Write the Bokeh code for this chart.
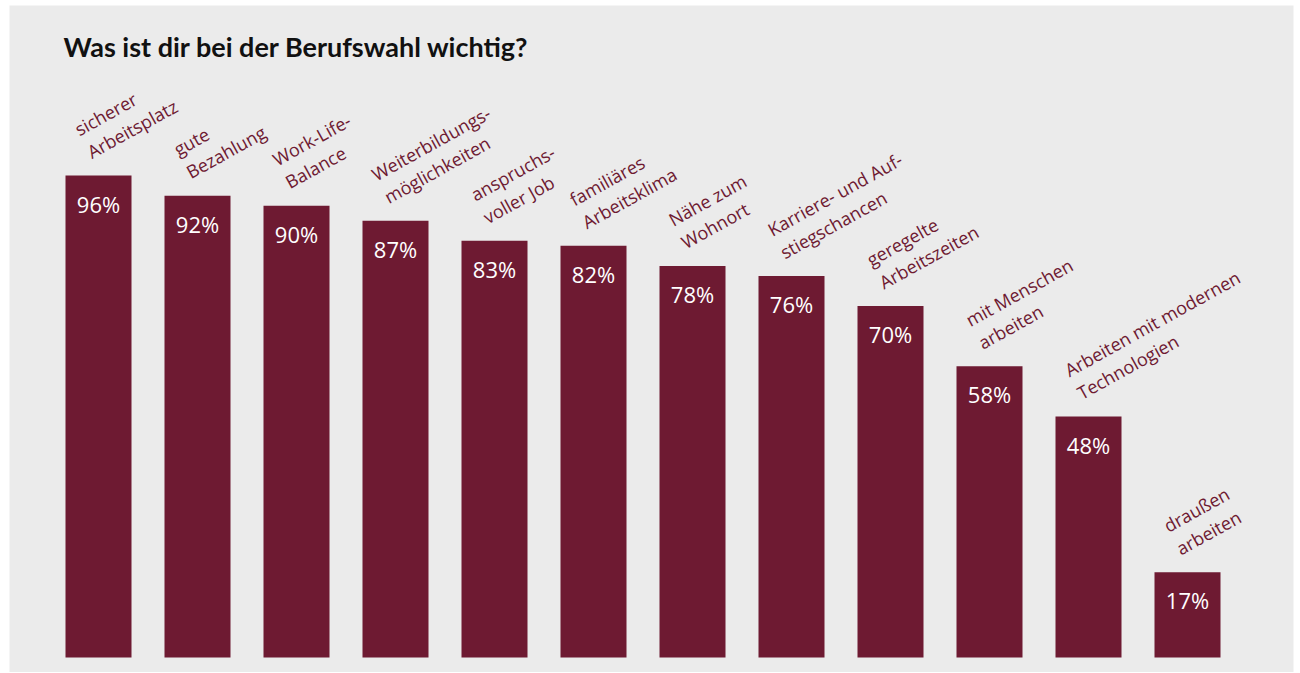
import math
from bokeh.plotting import figure
from bokeh.models import ColumnDataSource, Label, Range1d
from bokeh.core.properties import value
from bokeh.embed import file_html
from bokeh.resources import INLINE

categories = [
    "sicherer\nArbeitsplatz",
    "gute\nBezahlung",
    "Work-Life-\nBalance",
    "Weiterbildungs-\nmöglichkeiten",
    "anspruchs-\nvoller Job",
    "familiäres\nArbeitsklima",
    "Nähe zum\nWohnort",
    "Karriere- und Auf-\nstiegschancen",
    "geregelte\nArbeitszeiten",
    "mit Menschen\narbeiten",
    "Arbeiten mit modernen\nTechnologien",
    "draußen\narbeiten",
]
values = [96, 92, 90, 87, 83, 82, 78, 76, 70, 58, 48, 17]
value_labels = [f"{v}%" for v in values]
title_text = "Was ist dir bei der Berufswahl wichtig?"

W, H = 1294, 672
BL, BT, BR, BB = 9, 5, 1, 0
FW, FH = W - BL - BR, H - BT - BB
BG = "#ebebeb"
BAR = "#6e1a32"

idx = list(range(len(values)))
src = ColumnDataSource(dict(x=idx, y=values, cat=categories, lab=value_labels))

px_per_unit_x = 99.0
px_per_unit_y = 5.02
x0_px = 89.0   # first bar centre, from left edge of frame
y0_px = 15.0   # baseline, from bottom of frame

p = figure(
    width=W, height=H,
    output_backend="svg", toolbar_location=None,
    x_axis_type=None, y_axis_type=None,
    x_range=Range1d(-x0_px / px_per_unit_x, (FW - x0_px) / px_per_unit_x),
    y_range=Range1d(-y0_px / px_per_unit_y, (FH - y0_px) / px_per_unit_y),
    min_border_left=BL, min_border_top=BT, min_border_right=BR, min_border_bottom=BB,
)
p.background_fill_color = BG
p.border_fill_color = "white"
p.outline_line_color = None
p.xgrid.visible = False
p.ygrid.visible = False

p.vbar(x="x", top="y", bottom=0, width=66 / px_per_unit_x, source=src,
       fill_color=BAR, line_color=None)

p.text(x="x", y="y", text="lab", source=src,
       text_color="white", text_font=value("Open Sans"), text_font_size="22px",
       text_align="center", text_baseline="middle", y_offset=28)

p.text(x="x", y="y", text="cat", source=src,
       text_color=BAR, text_font=value("Open Sans"), text_font_size="18px",
       text_align="left", text_baseline="bottom", text_line_height=1.08,
       angle=math.radians(29), x_offset=-4, y_offset=-12)

p.add_layout(Label(x=54, y=FH - 46 + BT, x_units="screen", y_units="screen",
                   text=title_text, text_font="Lato", text_font_style="bold",
                   text_font_size="27px", text_color="#111111",
                   text_baseline="alphabetic", text_align="left"))

open("out.html", "w").write(file_html(p, INLINE))
